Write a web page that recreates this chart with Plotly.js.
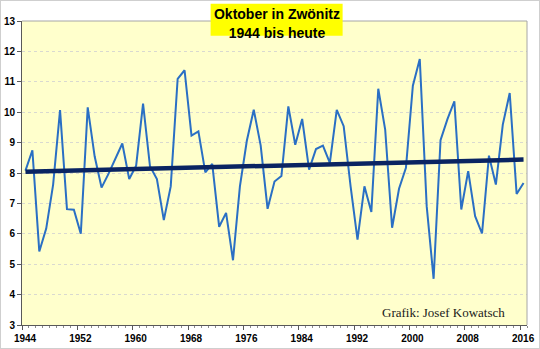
<!DOCTYPE html>
<html><head><meta charset="utf-8">
<script src="https://cdn.plot.ly/plotly-3.0.1.min.js"></script>
<style>
html,body{margin:0;padding:0;background:#fff;}
#wrap{width:540px;height:349px;box-sizing:border-box;border:1px solid #cfcfcf;position:relative;overflow:hidden;}
#chart{width:538px;height:347px;}
</style>
</head><body><div id="wrap"><div id="chart"></div></div>
<script>
const years = [];
for (let y = 1944; y <= 2016; y++) years.push(y);
const temps = [
  8.08, 8.75, 5.42, 6.17, 7.62, 10.07, 6.81, 6.79, 6.00, 10.16,
  8.55, 7.52, 7.97, 8.45, 8.97, 7.80, 8.24, 10.28, 8.22, 7.80,
  6.45, 7.56, 11.10, 11.38, 9.23, 9.37, 8.02, 8.30, 6.23, 6.69,
  5.13, 7.56, 9.06, 10.08, 8.91, 6.82, 7.72, 7.90, 10.19, 8.93,
  9.78, 8.11, 8.79, 8.90, 8.33, 10.08, 9.54, 7.56, 5.81, 7.56,
  6.72, 10.77, 9.43, 6.20, 7.48, 8.17, 10.87, 11.75, 6.91, 4.52,
  9.08, 9.77, 10.36, 6.80, 8.06, 6.58, 6.01, 8.57, 7.62, 9.59,
  10.63, 7.31, 7.67
];
const tickYears = [1944, 1952, 1960, 1968, 1976, 1984, 1992, 2000, 2008, 2016];
const titleText = '<b>Oktober in Zwönitz</b><br><b>1944 bis heute</b>';
const creditText = 'Grafik: Josef Kowatsch';

// linear trend (least squares)
const n = years.length;
const mx = years.reduce((a, b) => a + b, 0) / n;
const my = temps.reduce((a, b) => a + b, 0) / n;
let sxy = 0, sxx = 0;
for (let i = 0; i < n; i++) { sxy += (years[i] - mx) * (temps[i] - my); sxx += (years[i] - mx) ** 2; }
const slope = sxy / sxx, icpt = my - slope * mx;
const trendX = [years[0], years[n - 1]];
const trendY = trendX.map(x => icpt + slope * x);

const traces = [
  {x: years, y: temps, type: 'scatter', mode: 'lines',
   line: {color: '#2a6fc4', width: 2}, hoverinfo: 'x+y'},
  {x: trendX, y: trendY, type: 'scatter', mode: 'lines',
   line: {color: '#0a2462', width: 4.5}, hoverinfo: 'skip'}
];

const tickFont = {family: 'Liberation Sans, Arial, sans-serif', size: 10, color: '#000', weight: 'bold'};

const layout = {
  width: 538, height: 347,
  margin: {l: 21.4, r: 11.7, t: 19.7, b: 23},
  paper_bgcolor: '#ffffff',
  plot_bgcolor: '#ffffcc',
  showlegend: false,
  title: {
    text: titleText,
    font: {family: 'Liberation Sans, Arial, sans-serif', size: 14, color: '#000'},
    x: 0.513, xanchor: 'center', y: 0.947, yanchor: 'middle'
  },
  xaxis: {
    type: 'linear', range: [1943.5, 2016.5],
    tickmode: 'array',
    tickvals: tickYears.map(y => y - 0.5),
    ticktext: tickYears.map(String),
    ticks: 'outside', ticklen: 4, tickcolor: '#595959', tickwidth: 1,
    ticklabelshift: 3,
    showline: true, linecolor: '#595959', linewidth: 1,
    showgrid: false, zeroline: false,
    tickfont: tickFont,
    minor: {tickmode: 'linear', tick0: 1943.5, dtick: 1, ticks: 'outside', ticklen: 2, tickcolor: '#8c8c8c', showgrid: false}
  },
  yaxis: {
    range: [3, 13], tickmode: 'linear', tick0: 3, dtick: 1,
    ticks: 'outside', ticklen: 4, tickcolor: '#595959',
    showline: true, linecolor: '#595959', linewidth: 1,
    showgrid: true, gridcolor: '#d9d9d0', griddash: 'dot', gridwidth: 1,
    zeroline: false,
    tickfont: tickFont
  },
  shapes: [
    {type: 'line', xref: 'paper', yref: 'paper', x0: 0, x1: 1, y0: 1, y1: 1, line: {color: '#a6a6a6', width: 1}},
    {type: 'line', xref: 'paper', yref: 'paper', x0: 1, x1: 1, y0: 0, y1: 1, line: {color: '#a6a6a6', width: 1}},
    {type: 'rect', xref: 'paper', yref: 'paper', x0: 0.3735, x1: 0.6349, y0: 0.9514, y1: 1.0569,
     fillcolor: '#ffff00', line: {width: 0}, layer: 'above'}
  ],
  annotations: [
    {text: creditText, xref: 'paper', yref: 'paper', x: 0.835, y: 0.0427,
     xanchor: 'center', yanchor: 'middle', showarrow: false,
     font: {family: 'Liberation Serif, Times New Roman, serif', size: 13, color: '#1a1a1a'}}
  ]
};

Plotly.newPlot('chart', traces, layout, {displayModeBar: false, staticPlot: true});
</script>
</body></html>
